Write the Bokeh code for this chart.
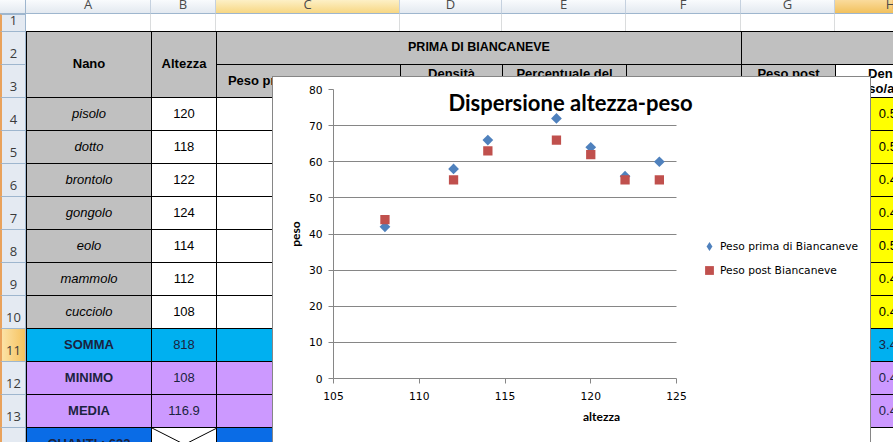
import numpy as np
from bokeh.plotting import figure
from bokeh.models import (Div, Label, Legend, LegendItem, SingleIntervalTicker,
                          ColumnDataSource, Range1d)
from bokeh.layouts import column
from bokeh.embed import file_html
from bokeh.resources import INLINE

# ---------------- data ----------------
nani = ["pisolo", "dotto", "brontolo", "gongolo", "eolo", "mammolo", "cucciolo"]
altezza = [120, 118, 122, 124, 114, 112, 108]
peso_prima = [64, 72, 56, 60, 66, 58, 42]
peso_post = [62, 66, 55, 55, 63, 55, 44]
serie = ["Peso prima di Biancaneve", "Peso post Biancaneve"]
colori = ["#4F81BD", "#C0504D"]
titolo = "Dispersione altezza-peso"
etichetta_x = "altezza"
etichetta_y = "peso"
x_lim = (105, 125)
x_passo = 5
y_lim = (0, 80)
y_passo = 10

# ---------------- sheet (background) ----------------
col_lettere = ["A", "B", "C", "D", "E", "F", "G", "H"]
col_larghezze = [125, 65, 184, 102, 124, 115, 94, 112]
riepilogo = ["SOMMA", "MINIMO", "MEDIA"]
quanti_testo = "QUANTI : 622"

FONT = "'Liberation Sans', Arial, sans-serif"
HFONT = "'Open Sans', sans-serif"
GRAY = "#C0C0C0"
BLUE = "#00B0F0"
BLUE2 = "#0A6CE6"
PURPLE = "#CC99FF"
YELLOW = "#FFFF00"
HDR_BG = "linear-gradient(#F9FBFD, #E3E9F0)"
HDR_SEL = "linear-gradient(#FDF0C6, #F7D783)"
HDR_SEL2 = "linear-gradient(#FADB9C, #F2C15D)"

ROWHDR_W = 26
col_left = [ROWHDR_W]
for w in col_larghezze[:-1]:
    col_left.append(col_left[-1] + w)
row_top = {1: 14}
row_h = {1: 17}
for r in range(2, 15):
    row_top[r] = row_top[r - 1] + row_h[r - 1]
    row_h[r] = 33

parts = []


def box(x, y, w, h, bg="transparent", text="", css=""):
    parts.append(
        f'<div style="position:absolute;left:{x}px;top:{y}px;width:{w}px;height:{h}px;'
        f'background:{bg};box-sizing:border-box;display:flex;align-items:center;'
        f'justify-content:center;text-align:center;overflow:hidden;white-space:nowrap;'
        f'font-family:{FONT};font-size:13px;color:#000;{css}">{text}</div>')


def cell(c0, c1, r0, r1, bg, text="", css=""):
    x = col_left[c0]
    w = col_left[c1] + col_larghezze[c1] - x
    y = row_top[r0]
    h = row_top[r1] + row_h[r1] - y
    box(x, y, w, h, bg, text, "border-left:1px solid #000;border-top:1px solid #000;" + css)


# column headers
box(0, 0, ROWHDR_W, 14, HDR_BG, "", "border-right:1px solid #9EB6CE;border-bottom:1px solid #9EB6CE;")
for i, L in enumerate(col_lettere):
    bg = HDR_SEL if L == "C" else (HDR_SEL2 if L == "H" else HDR_BG)
    box(col_left[i], 0, col_larghezze[i], 14, bg, L,
        f"border-right:1px solid #C5D1DF;border-bottom:1px solid #9EB6CE;font-family:{HFONT};"
        f"color:#4a4a4a;line-height:9px;align-items:flex-start;")
# row headers
for r in range(1, 15):
    bg = "linear-gradient(to right,#FCE2A6,#F6C25E)" if r == 11 else "#E4EAF2"
    box(0, row_top[r], ROWHDR_W, row_h[r], bg, str(r),
        f"border-top:1px solid #9EB6CE;border-right:1px solid #9EB6CE;border-left:2px solid #E9A25C;"
        f"align-items:flex-end;padding-bottom:1px;font-family:{HFONT};color:#3a3a3a;")
# row 1
for i in range(len(col_lettere)):
    box(col_left[i], row_top[1], col_larghezze[i], row_h[1], "#fff", "", "border-right:1px solid #DADCDD;")

B = "font-weight:bold;"
TWO = "white-space:normal;line-height:15px;font-weight:bold;"
cell(0, 0, 2, 3, GRAY, "Nano", B)
cell(1, 1, 2, 3, GRAY, "Altezza", B)
cell(2, 5, 2, 2, GRAY, "PRIMA DI BIANCANEVE", B + "font-size:12.5px;")
cell(6, 7, 2, 2, GRAY, "")
cell(2, 2, 3, 3, GRAY, "Peso prima di Biancaneve", B)
cell(3, 3, 3, 3, GRAY, "Densità<br>peso/altezza", TWO)
cell(4, 4, 3, 3, GRAY, "Percentuale del<br>peso", TWO)
cell(5, 5, 3, 3, GRAY, "")
cell(6, 6, 3, 3, GRAY, "Peso post<br>Biancaneve", TWO)
cell(7, 7, 3, 3, "#fff", "Densità<br>peso/altezza", TWO)

dens = [pp / a for pp, a in zip(peso_post, altezza)]
for k, nome in enumerate(nani):
    r = 4 + k
    cell(0, 0, r, r, GRAY, nome, "font-style:italic;")
    cell(1, 1, r, r, "#fff", str(altezza[k]))
    cell(2, 2, r, r, "#fff", str(peso_prima[k]))
    for c in range(3, 7):
        cell(c, c, r, r, "#fff", "")
    cell(7, 7, r, r, YELLOW, f"{dens[k]:.2f}")

stat_alt = [str(sum(altezza)), str(min(altezza)), f"{np.mean(altezza):.1f}"]
stat_pp = [str(sum(peso_prima)), str(min(peso_prima)), f"{np.mean(peso_prima):.1f}"]
stat_d = [f"{sum(dens):.2f}", f"{min(dens):.2f}", f"{np.mean(dens):.2f}"]
for k, nome in enumerate(riepilogo):
    r = 11 + k
    bg = BLUE if k == 0 else PURPLE
    cell(0, 0, r, r, bg, nome, B + "color:#1b2340;")
    cell(1, 1, r, r, bg, stat_alt[k], "color:#1b2340;")
    cell(2, 2, r, r, bg, stat_pp[k])
    for c in range(3, 7):
        cell(c, c, r, r, bg, "")
    cell(7, 7, r, r, bg, stat_d[k], "color:#1b2340;")

cell(0, 0, 14, 14, BLUE2, quanti_testo, B + "color:#1b2340;")
cell(1, 1, 14, 14, "#fff",
     '<svg width="65" height="33" style="position:absolute;left:0;top:0">'
     '<line x1="0" y1="0" x2="65" y2="33" stroke="#000"/><line x1="65" y1="0" x2="0" y2="33" stroke="#000"/></svg>')
cell(2, 2, 14, 14, BLUE2, "")
for c in range(3, 6):
    cell(c, c, 14, 14, "#fff", "")
cell(6, 6, 14, 14, BLUE2, "")
cell(7, 7, 14, 14, "#fff", "")

# chart area frame (Excel chart object border)
box(272, 76, 599, 367, "#fff", "", "border:1px solid #868686;")

sheet_html = ('<div style="position:relative;width:893px;height:442px;overflow:hidden;background:#fff;">'
              + "".join(parts) + "</div>")
sheet = Div(text=sheet_html, width=893, height=442, margin=0)

# ---------------- chart ----------------
# plot area spans 343 px for the 105..125 axis; the frame continues to the
# chart's right edge so that the legend and title can live inside it
FIG_W, FIG_H = 596, 364
LEFT, TOP, BOTTOM = 60, 12, 63
AXIS_PX = 343
frame_w = FIG_W - LEFT
x_vista = (x_lim[0], x_lim[0] + (x_lim[1] - x_lim[0]) * frame_w / AXIS_PX)

p = figure(width=FIG_W, height=FIG_H, x_range=Range1d(*x_vista), y_range=Range1d(*y_lim),
           output_backend="svg", toolbar_location=None,
           min_border_left=LEFT, min_border_right=0, min_border_top=TOP, min_border_bottom=BOTTOM,
           styles={"position": "absolute", "left": "273px", "top": "77px", "z-index": "5"})
p.outline_line_color = None
p.background_fill_color = "white"
p.border_fill_color = "white"
p.xgrid.visible = False
p.ygrid.grid_line_color = "#868686"
p.ygrid.grid_line_width = 1
p.ygrid.cross_bounds = x_lim
p.xaxis.bounds = x_lim
p.xaxis.ticker = SingleIntervalTicker(interval=x_passo, num_minor_ticks=0)
p.yaxis.ticker = SingleIntervalTicker(interval=y_passo, num_minor_ticks=0)
p.xaxis.axis_label = etichetta_x
p.yaxis.axis_label = etichetta_y
for ax in (p.xaxis[0], p.yaxis[0]):
    ax.axis_line_color = "#868686"
    ax.major_tick_line_color = "#868686"
    ax.minor_tick_line_color = None
    ax.major_tick_in = 0
    ax.major_tick_out = 5
    ax.major_label_text_font = "DejaVu Sans"
    ax.major_label_text_font_size = "10.7px"
    ax.major_label_text_color = "#000000"
    ax.axis_label_text_font = "Lato"
    ax.axis_label_text_font_style = "bold"
    ax.axis_label_text_font_size = "12px"
    ax.axis_label_text_color = "#000000"
p.xaxis.major_label_standoff = 8
p.yaxis.major_label_standoff = 6
p.xaxis.axis_label_standoff = 6
p.yaxis.axis_label_standoff = 3

src1 = ColumnDataSource(dict(x=altezza, y=peso_prima))
src2 = ColumnDataSource(dict(x=altezza, y=peso_post))
r1 = p.scatter("x", "y", source=src1, marker="square", size=7.6, angle=np.pi / 4,
               fill_color=colori[0], line_color=None)
r2 = p.scatter("x", "y", source=src2, marker="square", size=9.3,
               fill_color=colori[1], line_color=None)
# legend swatch for the diamond series (legend glyphs are not rotated):
# same data, hidden in the plot, used only by the legend
r1_leg = p.scatter("x", "y", source=src1, marker="diamond", fill_color=colori[0],
                   line_color=None, visible=False)

legend = Legend(items=[LegendItem(label=serie[0], renderers=[r1_leg]),
                       LegendItem(label=serie[1], renderers=[r2])],
                location=(365, 97), orientation="vertical",
                glyph_width=22, glyph_height=22, label_height=22, spacing=2,
                padding=0, margin=0, label_standoff=0,
                border_line_color=None, background_fill_alpha=0,
                label_text_font="DejaVu Sans", label_text_font_size="10.7px",
                label_text_color="#000000")
p.add_layout(legend)

title = Label(x=237, y=276, x_units="screen", y_units="screen", text=titolo,
              text_align="center", text_baseline="middle", text_font="Lato",
              text_font_style="bold", text_font_size="22px", text_color="#000000")
p.add_layout(title)

root = column(sheet, p, width=893, height=442, styles={"position": "relative"})
open("out.html", "w").write(file_html(root, INLINE))
